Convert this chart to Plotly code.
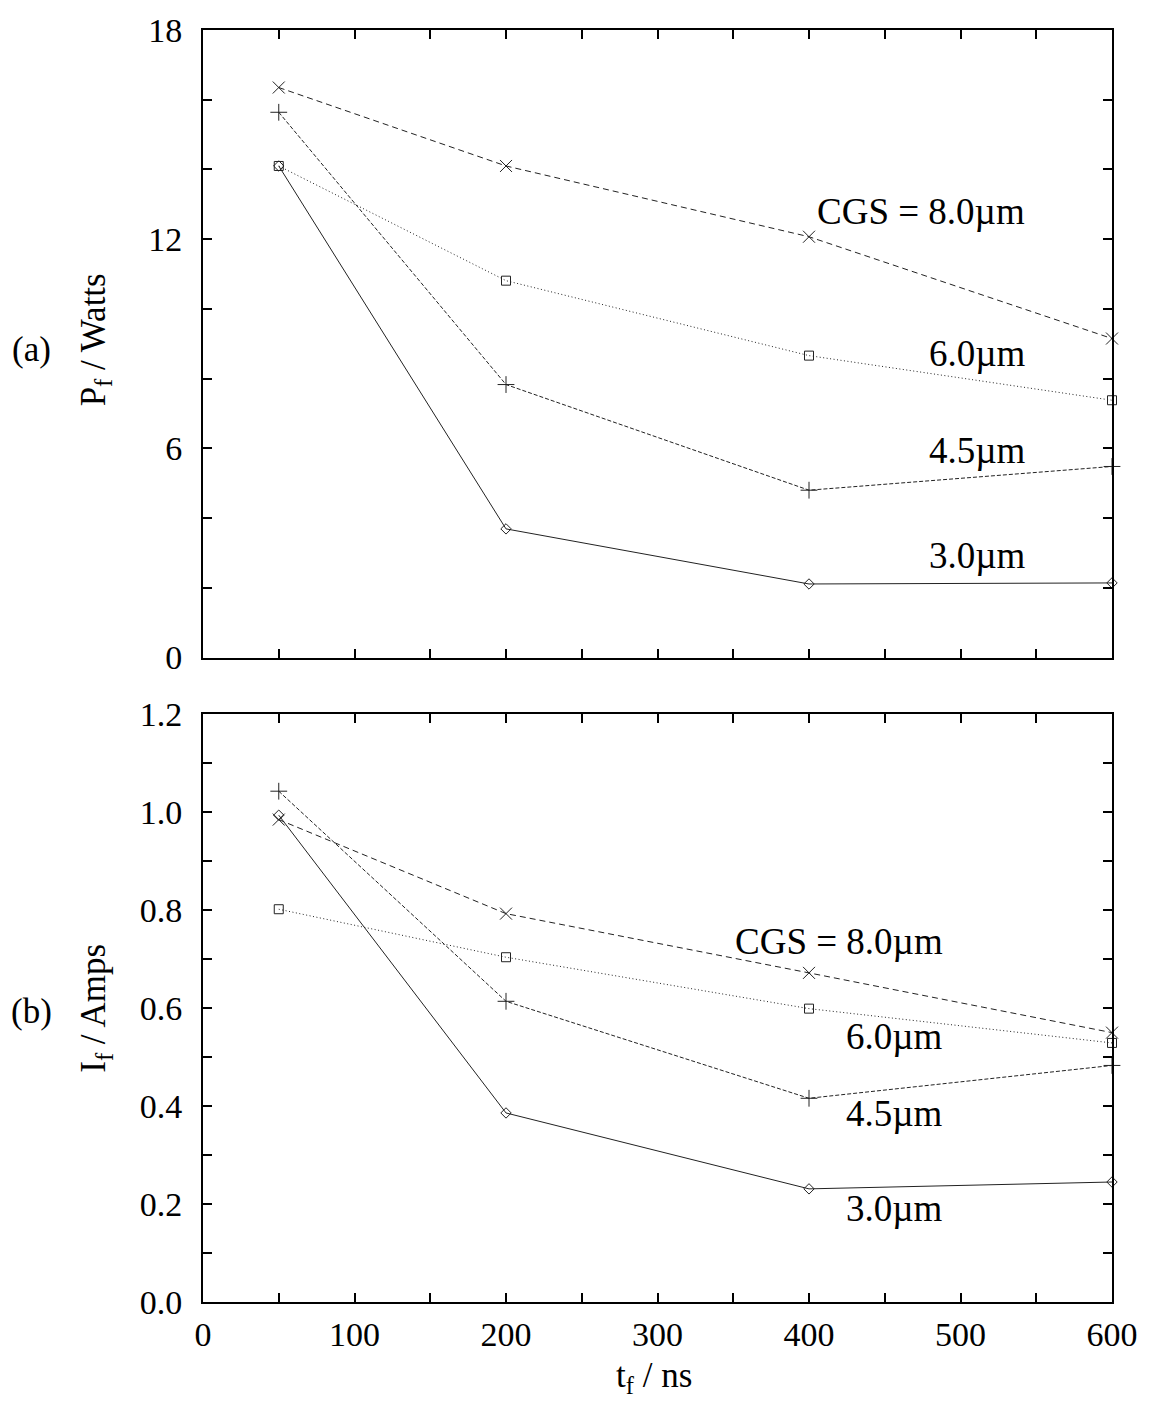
import plotly.graph_objects as go
from plotly.subplots import make_subplots

t_ns = [50, 200, 400, 600]

# (a) P_f / Watts
pf_80 = [16.35, 14.10, 12.07, 9.15]
pf_60 = [14.10, 10.81, 8.66, 7.38]
pf_45 = [15.64, 7.83, 4.80, 5.48]
pf_30 = [14.10, 3.69, 2.11, 2.14]

# (b) I_f / Amps
if_80 = [0.985, 0.793, 0.672, 0.550]
if_60 = [0.802, 0.704, 0.599, 0.529]
if_45 = [1.043, 0.614, 0.416, 0.483]
if_30 = [0.994, 0.386, 0.231, 0.245]

series_labels = ["CGS = 8.0µm", "6.0µm", "4.5µm", "3.0µm"]

FONT = "Liberation Serif, Times New Roman, serif"

styles = [
    dict(dash="6px,4px", symbol="x-thin-open", size=12, color="#222"),
    dict(dash="1px,2.5px", symbol="square-open", size=9, color="#222"),
    dict(dash="4px,2px", symbol="cross-thin-open", size=12, color="#222"),
    dict(dash="solid", symbol="diamond-open", size=8, color="#222"),
]

fig = make_subplots(rows=2, cols=1, shared_xaxes=False, vertical_spacing=0.0)

top = [pf_80, pf_60, pf_45, pf_30]
bot = [if_80, if_60, if_45, if_30]
for row, data in ((1, top), (2, bot)):
    for vals, st, name in zip(data, styles, series_labels):
        fig.add_trace(go.Scatter(
            x=t_ns, y=vals, mode="lines+markers", name=name,
            line=dict(color=st["color"], width=1, dash=st["dash"]),
            marker=dict(symbol=st["symbol"], size=st["size"], color=st["color"],
                        line=dict(color=st["color"], width=1)),
            cliponaxis=False, showlegend=False,
        ), row=row, col=1)

axis_common = dict(
    showline=True, linecolor="black", linewidth=2, mirror="ticks",
    ticks="inside", ticklen=9, tickwidth=2, tickcolor="black",
    showgrid=False, zeroline=False,
    tickfont=dict(family=FONT, size=34, color="black"),
)

fig.update_xaxes(range=[0, 600], dtick=50, showticklabels=False, row=1, col=1, **axis_common)
fig.update_xaxes(range=[0, 600], dtick=100, row=2, col=1, ticklabelstandoff=1,
                 minor=dict(ticks="inside", dtick=50, ticklen=9, tickwidth=2, tickcolor="black"),
                 **axis_common)
fig.update_yaxes(range=[0, 18], tickvals=[0, 6, 12, 18], row=1, col=1, ticklabelstandoff=12,
                 minor=dict(ticks="inside", dtick=2, ticklen=9, tickwidth=2, tickcolor="black"),
                 **axis_common)
fig.update_yaxes(range=[0, 1.2], dtick=0.2, tickformat=".1f", row=2, col=1, ticklabelstandoff=12,
                 minor=dict(ticks="inside", dtick=0.1, ticklen=9, tickwidth=2, tickcolor="black"),
                 **axis_common)

H = 1403.0
L, R = 203, 33
plot_top, plot_bot = 25, 1302
ph = plot_bot - plot_top
pw = 1150 - L - R
fig.update_layout(
    width=1150, height=1403,
    margin=dict(l=L, r=R, t=plot_top, b=H - plot_bot),
    plot_bgcolor="white", paper_bgcolor="white",
    yaxis=dict(domain=[(plot_bot - 655) / ph, 1.0]),
    yaxis2=dict(domain=[0.0, (plot_bot - 712) / ph]),
    xaxis=dict(domain=[0, 1]), xaxis2=dict(domain=[0, 1]),
    font=dict(family=FONT, color="black"),
)


def px_ann(text, x, y, angle=0, size=37):
    fig.add_annotation(text=text, xref="paper", yref="paper",
                       x=(x - L) / pw, y=(plot_bot - y) / ph,
                       showarrow=False, textangle=angle,
                       font=dict(family=FONT, size=size, color="black"),
                       xanchor="center", yanchor="middle")

# series labels (pixel positions of label centres)
lab_top = [(925, 207), (982, 350), (982, 447), (982, 553)]
lab_bot = [(842, 940), (898, 1035), (898, 1113), (898, 1208)]
for (x, y), txt in zip(lab_top, series_labels):
    px_ann(txt, x, y)
for (x, y), txt in zip(lab_bot, series_labels):
    px_ann(txt, x, y)

px_ann("(a)", 31, 346, size=35)
px_ann("(b)", 31, 1010, size=35)
px_ann("P<sub>f</sub> / Watts", 95, 336, angle=-90, size=35)
px_ann("I<sub>f</sub> / Amps", 95, 1007, angle=-90, size=35)
px_ann("t<sub>f</sub> / ns", 656, 1378, size=35)

fig.write_html("out.html")
